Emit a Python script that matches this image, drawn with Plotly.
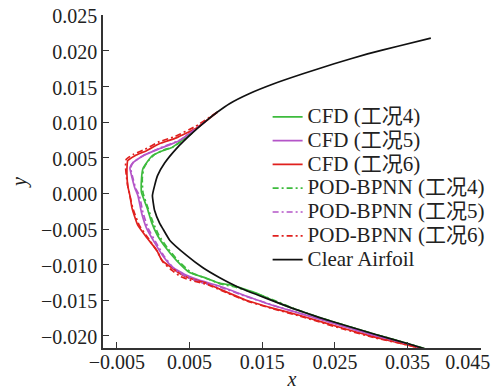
import plotly.graph_objects as go

# Clear airfoil (black)
clear_x = [0.0382, 0.0338, 0.0295, 0.0249, 0.0206, 0.0166, 0.0132, 0.0105, 0.0088, 0.0073, 0.0054, 0.0032, 0.0016, 0.0006, 0.0002, -0.0001, 0.0002, 0.0009, 0.0013, 0.0023, 0.0046, 0.0068, 0.0091, 0.0118, 0.0155, 0.0191, 0.0228, 0.0260, 0.0306, 0.0351, 0.0383]
clear_y = [0.0218, 0.0207, 0.0196, 0.0182, 0.0168, 0.0154, 0.0140, 0.0126, 0.0114, 0.0102, 0.0085, 0.0063, 0.0043, 0.0025, 0.0011, -0.0003, -0.0024, -0.0042, -0.0049, -0.0066, -0.0087, -0.0104, -0.0118, -0.0132, -0.0147, -0.0161, -0.0174, -0.0184, -0.0198, -0.0211, -0.0221]

# CFD case 4 (green)
cfd4_x = [0.0054, 0.0025, 0.0013, -0.0001, -0.0009, -0.0014, -0.0016, -0.0016, -0.0008, -0.0002, 0.0006, 0.0018, 0.0032, 0.0050, 0.0073, 0.0091, 0.0109, 0.0142, 0.0173, 0.0191, 0.0228, 0.0260, 0.0306, 0.0351, 0.0383]
cfd4_y = [0.0085, 0.0064, 0.0060, 0.0053, 0.0043, 0.0035, 0.0021, 0.0001, -0.0021, -0.0041, -0.0059, -0.0077, -0.0094, -0.0111, -0.0119, -0.0126, -0.0129, -0.0140, -0.0154, -0.0161, -0.0174, -0.0184, -0.0198, -0.0211, -0.0221]

# CFD case 5 (purple)
cfd5_x = [0.0073, 0.0036, 0.0009, -0.0014, -0.0028, -0.0032, -0.0029, -0.0025, -0.0021, -0.0016, -0.0009, 0.0002, 0.0013, 0.0027, 0.0046, 0.0064, 0.0091, 0.0128, 0.0164, 0.0201, 0.0260, 0.0306, 0.0351, 0.0383]
cfd5_y = [0.0102, 0.0074, 0.0063, 0.0053, 0.0043, 0.0036, 0.0022, 0.0007, -0.0003, -0.0027, -0.0049, -0.0069, -0.0087, -0.0104, -0.0115, -0.0122, -0.0130, -0.0144, -0.0157, -0.0168, -0.0186, -0.0200, -0.0212, -0.0222]

# CFD case 6 (red)
cfd6_x = [0.0088, 0.0060, 0.0032, 0.0009, -0.0009, -0.0025, -0.0035, -0.0036, -0.0036, -0.0035, -0.0032, -0.0029, -0.0021, -0.0008, 0.0005, 0.0012, 0.0025, 0.0036, 0.0050, 0.0073, 0.0091, 0.0128, 0.0164, 0.0201, 0.0260, 0.0306, 0.0351, 0.0383]
cfd6_y = [0.0114, 0.0092, 0.0078, 0.0070, 0.0060, 0.0053, 0.0046, 0.0036, 0.0025, 0.0011, -0.0003, -0.0021, -0.0045, -0.0063, -0.0080, -0.0094, -0.0104, -0.0112, -0.0119, -0.0126, -0.0134, -0.0150, -0.0161, -0.0171, -0.0189, -0.0202, -0.0213, -0.0222]

# POD-BPNN case 4 (green dash-dot)
pod4_x = [0.0054, 0.0027, 0.0014, 0.0001, -0.0008, -0.0013, -0.0015, -0.0014, -0.0007, 0.0000, 0.0008, 0.0020, 0.0034, 0.0052, 0.0075, 0.0093, 0.0111, 0.0143, 0.0174, 0.0192, 0.0228, 0.0260, 0.0306, 0.0351, 0.0383]
pod4_y = [0.0085, 0.0065, 0.0061, 0.0054, 0.0044, 0.0035, 0.0021, 0.0001, -0.0021, -0.0041, -0.0059, -0.0077, -0.0094, -0.0111, -0.0120, -0.0127, -0.0131, -0.0141, -0.0153, -0.0161, -0.0174, -0.0184, -0.0198, -0.0211, -0.0221]

# POD-BPNN case 5 (purple dash-dot)
pod5_x = [0.0073, 0.0037, 0.0010, -0.0012, -0.0027, -0.0031, -0.0028, -0.0024, -0.0019, -0.0014, -0.0007, 0.0004, 0.0015, 0.0029, 0.0048, 0.0066, 0.0093, 0.0129, 0.0165, 0.0201, 0.0260, 0.0306, 0.0351, 0.0383]
pod5_y = [0.0102, 0.0075, 0.0064, 0.0054, 0.0044, 0.0036, 0.0022, 0.0007, -0.0003, -0.0027, -0.0049, -0.0069, -0.0088, -0.0106, -0.0118, -0.0125, -0.0132, -0.0145, -0.0157, -0.0168, -0.0186, -0.0200, -0.0212, -0.0222]

# POD-BPNN case 6 (red dash-dot)
pod6_x = [0.0088, 0.0058, 0.0030, 0.0007, -0.0011, -0.0027, -0.0037, -0.0038, -0.0037, -0.0035, -0.0032, -0.0028, -0.0019, -0.0006, 0.0006, 0.0014, 0.0026, 0.0038, 0.0052, 0.0075, 0.0093, 0.0129, 0.0165, 0.0201, 0.0260, 0.0306, 0.0351, 0.0383]
pod6_y = [0.0114, 0.0094, 0.0080, 0.0072, 0.0062, 0.0055, 0.0048, 0.0038, 0.0026, 0.0011, -0.0003, -0.0021, -0.0045, -0.0064, -0.0082, -0.0097, -0.0108, -0.0117, -0.0122, -0.0128, -0.0136, -0.0151, -0.0162, -0.0172, -0.0190, -0.0203, -0.0213, -0.0222]

labels = ["CFD (工况4)", "CFD (工况5)", "CFD (工况6)",
          "POD-BPNN (工况4)", "POD-BPNN (工况5)", "POD-BPNN (工况6)",
          "Clear Airfoil"]

# x-axis tick values / labels (last one padded so it stays inside the page)
x_tickvals = [-0.005, 0.005, 0.015, 0.025, 0.035, 0.045]
x_ticktext = ["\u22120.005", "0.005", "0.015", "0.025", "0.035", "0.045" + "\u00a0" * 5]

GREEN = "#3dbb3d"
PURPLE = "#b455c8"
RED = "#e0201e"
BLACK = "#111111"
DASHDOT = "6px,3px,2px,3px"

series = [
    (cfd4_x, cfd4_y, GREEN, "solid"),
    (cfd5_x, cfd5_y, PURPLE, "solid"),
    (cfd6_x, cfd6_y, RED, "solid"),
    (pod4_x, pod4_y, GREEN, DASHDOT),
    (pod5_x, pod5_y, PURPLE, DASHDOT),
    (pod6_x, pod6_y, RED, DASHDOT),
    (clear_x, clear_y, BLACK, "solid"),
]

FONT = "Liberation Serif, Noto Sans CJK SC, serif"

fig = go.Figure()
for (xs, ys, col, dash), name in zip(series, labels):
    fig.add_trace(go.Scatter(
        x=xs, y=ys, mode="lines",
        name='<span style="font-size:21px">' + name + '</span>',
        line=dict(color=col, width=1.7, dash=dash, shape="spline", smoothing=0.4)))

axis_common = dict(
    showline=True, linecolor="#333333", linewidth=1.5,
    ticks="inside", ticklen=6, tickwidth=1.3, tickcolor="#333333",
    showgrid=False, zeroline=False, mirror=False, automargin=False,
    ticklabeloverflow="allow",
    tickfont=dict(family=FONT, size=20, color="#222222"),
)

# page body has an 8px default margin: figure is sized/placed to compensate
fig.update_layout(
    width=492, height=382,
    margin=dict(l=95, r=19, t=7, b=42, autoexpand=False),
    paper_bgcolor="white", plot_bgcolor="white",
    font=dict(family=FONT, size=20, color="#222222"),
    showlegend=True,
    legend=dict(x=0.4355, y=0.745, xanchor="left", yanchor="top",
                bgcolor="rgba(255,255,255,0)", borderwidth=0,
                font=dict(family=FONT, size=16, color="#222222"),
                tracegroupgap=0, itemwidth=30),
    xaxis=dict(range=[-0.0069, 0.0451], tickmode="array",
               tickvals=x_tickvals, ticktext=x_ticktext,
               ticklabelstandoff=-5,
               title=dict(text="<i>x</i>", font=dict(family=FONT, size=20), standoff=10),
               **axis_common),
    yaxis=dict(range=[-0.0217, 0.02505], tick0=0, dtick=0.005, tickformat=".3f",
               ticklabelshift=1,
               title=dict(text="<i>y</i>", font=dict(family=FONT, size=20), standoff=20),
               **axis_common),
)

fig.write_html("out.html")
